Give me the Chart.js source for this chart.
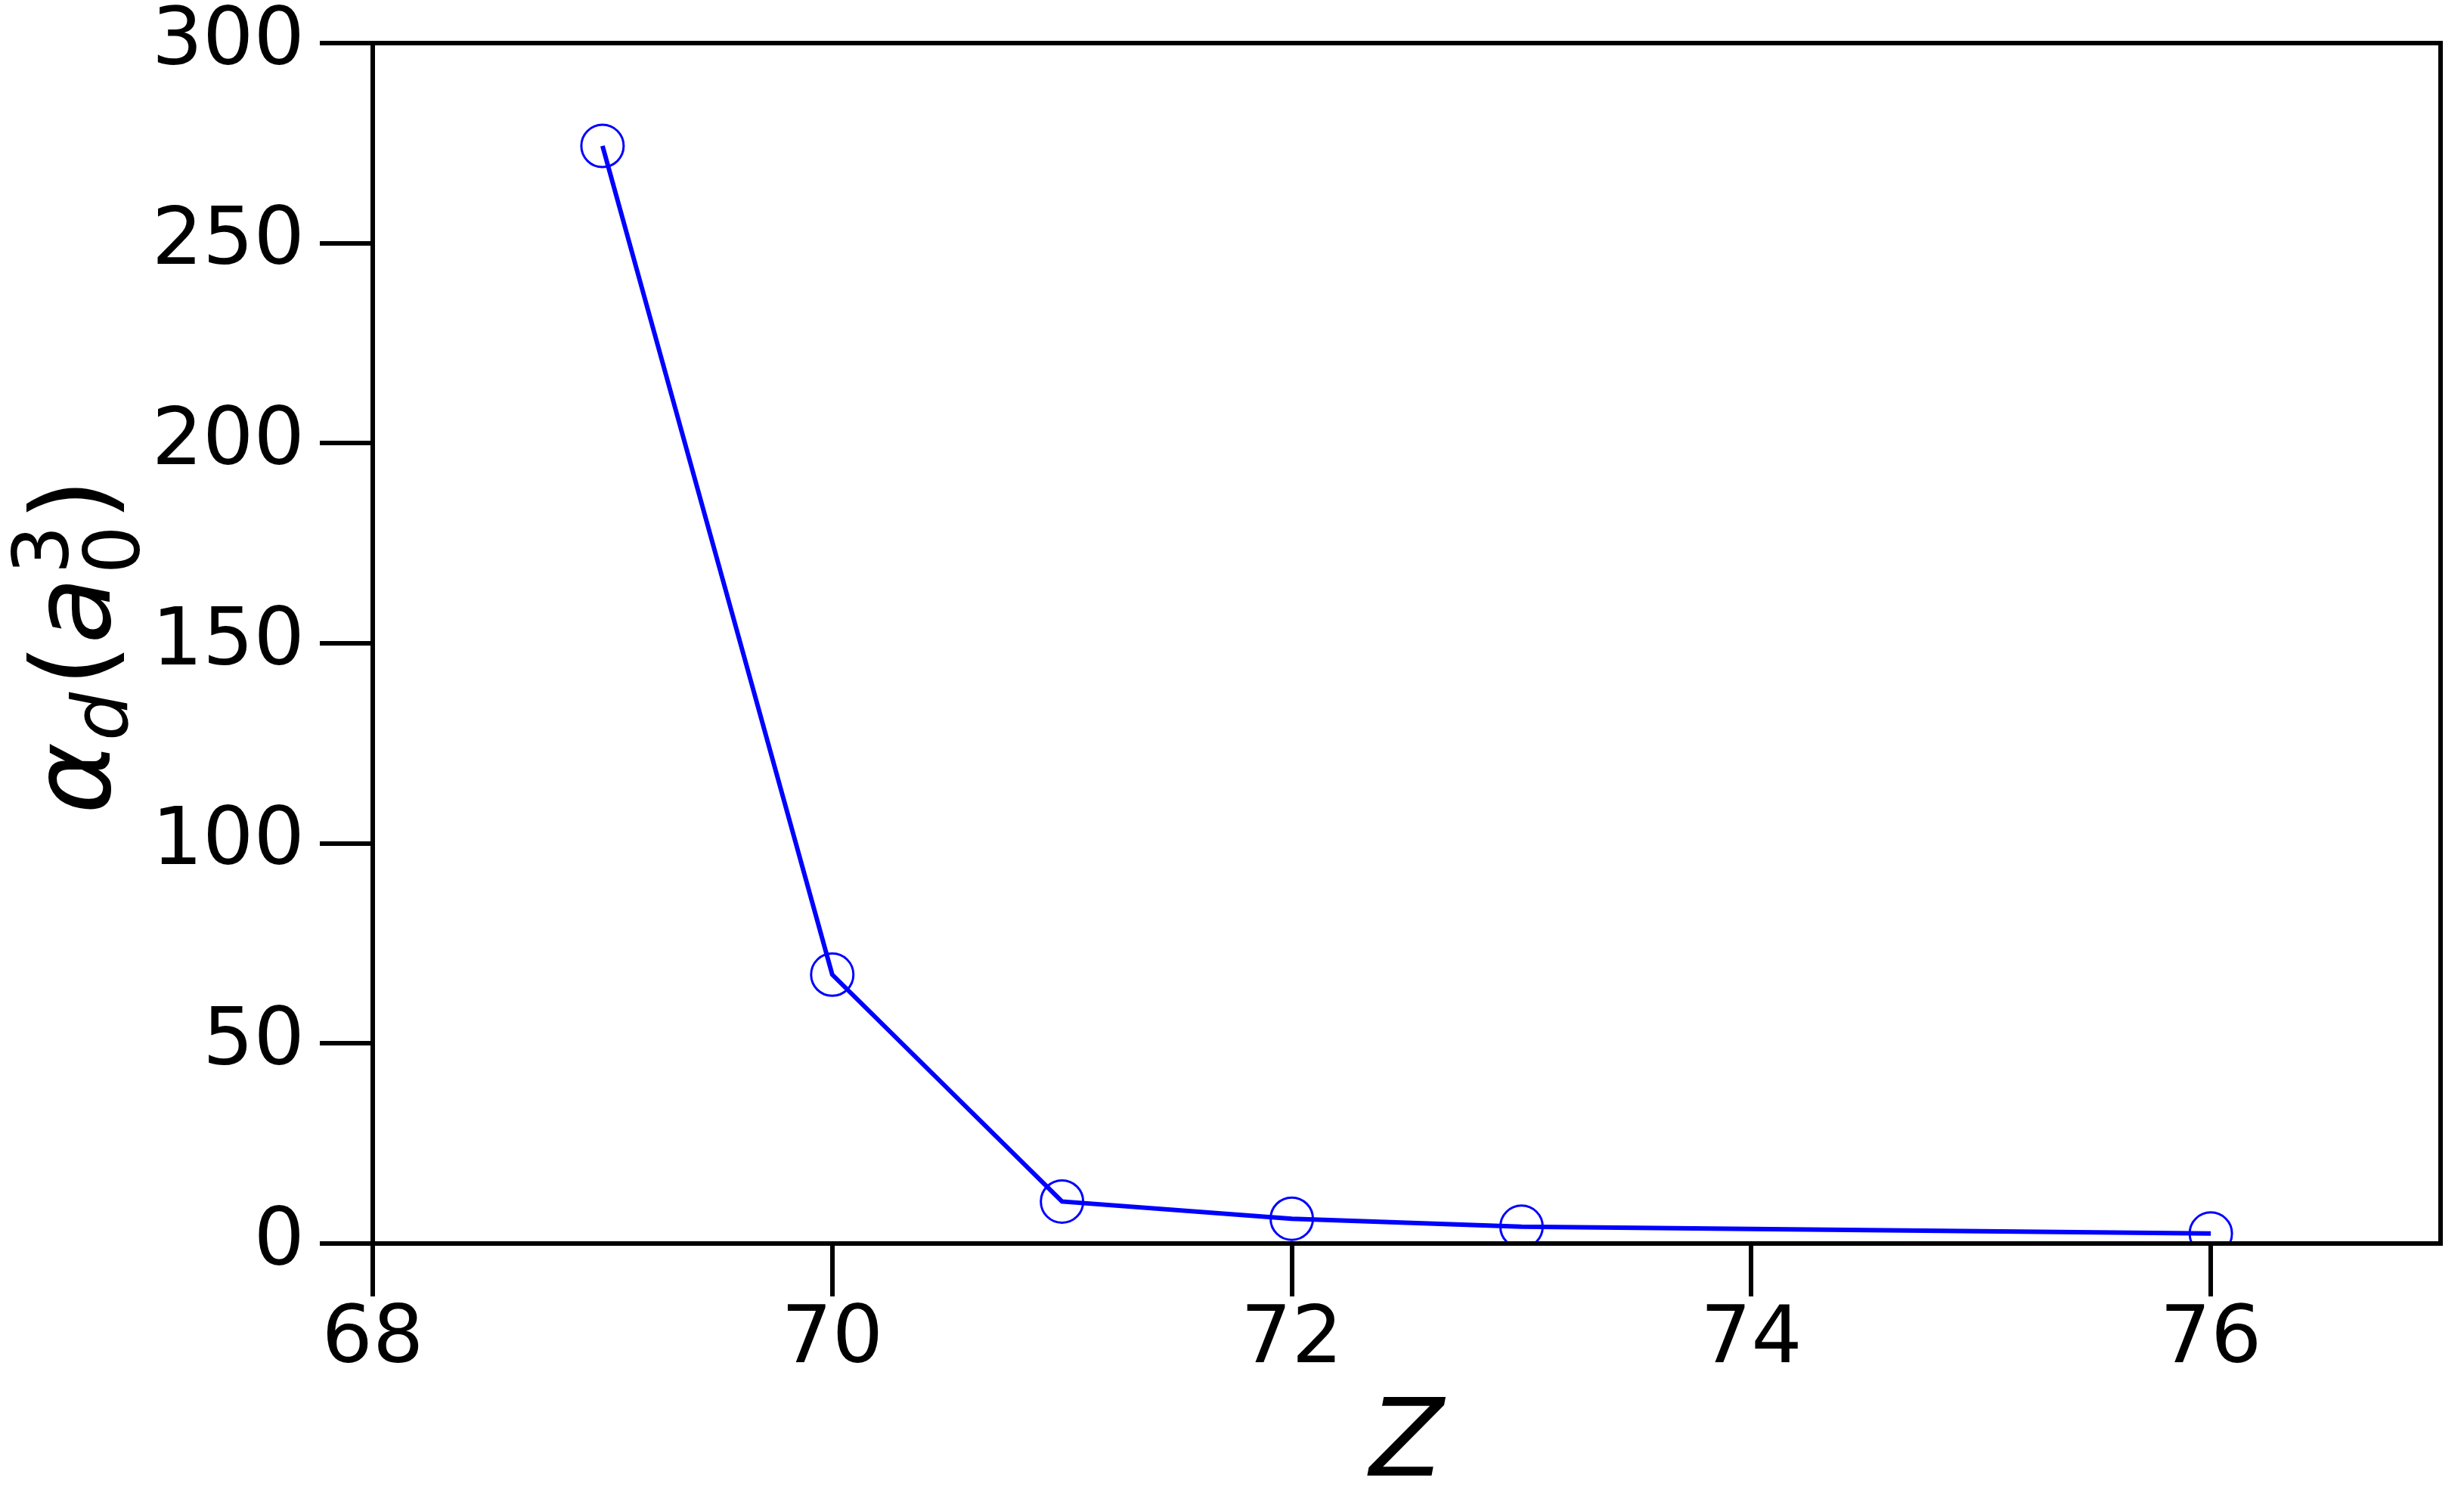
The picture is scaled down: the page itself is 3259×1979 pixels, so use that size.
<!DOCTYPE html>
<html>
<head>
<meta charset="utf-8">
<script src="https://cdn.jsdelivr.net/npm/chart.js@4.4.1/dist/chart.umd.min.js"></script>
<style>
    html, body { margin: 0; padding: 0; background: #ffffff; overflow: hidden; }
    #chart { display: block; }
</style>
</head>
<body>
<canvas id="chart" width="3259" height="1979"></canvas>
<script>
// Dipole polarizability vs atomic number Z

const zValues = [69, 70, 71, 72, 73, 76];
const alphaValues = [274.3, 67.2, 10.5, 6.2, 4.2, 2.5];

const xTicks = [68, 70, 72, 74, 76];
const yTicks = [0, 50, 100, 150, 200, 250, 300];

const BLUE = '#0000ff';
const FONT = "'DejaVu Sans'";

// Spines on top/right and the math-style axis titles
const framePlugin = {
    id: 'frame',
    afterDatasetsDraw(chart) {
        const { ctx, chartArea } = chart;
        ctx.save();
        ctx.strokeStyle = '#000';
        ctx.lineWidth = 6;
        ctx.strokeRect(chartArea.left, chartArea.top,
            chartArea.right - chartArea.left, chartArea.bottom - chartArea.top);
        ctx.restore();
    },
    afterDraw(chart) {
        const { ctx, chartArea } = chart;
        ctx.save();
        ctx.fillStyle = '#000';
        ctx.textBaseline = 'alphabetic';

        // x title: italic Z
        ctx.font = `italic 143px ${FONT}`;
        ctx.textAlign = 'center';
        ctx.fillText('Z', (chartArea.left + chartArea.right) / 2, 1952);

        // y title: alpha_d (a_0^3), rotated
        const big = 144, small = 101;
        const parts = [
            { t: '\u03b1', f: `italic ${big}px ${FONT}`, dv: 0 },
            { t: 'd', f: `italic ${small}px ${FONT}`, dv: 23, gap: 2 },
            { t: '(', f: `${big}px ${FONT}`, dv: 0, gap: 8 },
            { t: 'a', f: `italic ${big}px ${FONT}`, dv: 0 },
            { t: '0', f: `${small}px ${FONT}`, dv: 39, stack: '3', sdv: -55, gap: 4 },
            { t: ')', f: `${big}px ${FONT}`, dv: 0, gap: 6 }
        ];
        ctx.textAlign = 'left';
        let total = 0;
        parts.forEach(p => {
            ctx.font = p.f;
            p.w = ctx.measureText(p.t).width;
            total += p.w + (p.gap || 0);
        });
        const cy = (chartArea.top + chartArea.bottom) / 2 + 4;
        ctx.translate(145, cy);
        ctx.rotate(-Math.PI / 2);
        let u = -total / 2;
        parts.forEach(p => {
            u += p.gap || 0;
            ctx.font = p.f;
            ctx.fillText(p.t, u, p.dv);
            if (p.stack) ctx.fillText(p.stack, u, p.sdv);
            u += p.w;
        });
        ctx.restore();
    }
};

const axisCommon = {
    grid: {
        display: true,
        drawOnChartArea: false,
        drawTicks: true,
        tickLength: 70,
        tickWidth: 6,
        tickColor: '#000',
        lineWidth: 6,
        color: '#000'
    },
    border: { display: true, width: 6, color: '#000' }
};

new Chart(document.getElementById('chart'), {
    type: 'scatter',
    data: {
        datasets: [{
            data: zValues.map((z, i) => ({ x: z, y: alphaValues[i] })),
            showLine: true,
            borderColor: BLUE,
            borderWidth: 6,
            backgroundColor: 'rgba(0,0,0,0)',
            pointRadius: 28,
            pointHoverRadius: 28,
            pointBorderWidth: 3,
            pointBorderColor: BLUE,
            pointBackgroundColor: 'rgba(0,0,0,0)',
            tension: 0
        }]
    },
    options: {
        responsive: false,
        devicePixelRatio: 1,
        animation: false,
        events: [],
        layout: { padding: { left: 0, top: 57, right: 21, bottom: 0 } },
        plugins: {
            legend: { display: false },
            tooltip: { enabled: false }
        },
        scales: {
            x: {
                ...axisCommon,
                type: 'linear',
                min: 68,
                max: 77,
                afterBuildTicks: scale => { scale.ticks = xTicks.map(v => ({ value: v })); },
                afterFit: scale => {
                    scale.height = 1979 - 1645;
                    scale.paddingLeft = 0;
                    scale.paddingRight = 0;
                },
                ticks: {
                    color: '#000',
                    font: { family: 'DejaVu Sans', size: 106 },
                    padding: -4,
                    maxRotation: 0,
                    autoSkip: false
                }
            },
            y: {
                ...axisCommon,
                type: 'linear',
                min: 0,
                max: 300,
                afterBuildTicks: scale => { scale.ticks = yTicks.map(v => ({ value: v })); },
                afterFit: scale => {
                    scale.width = 493;
                    scale.paddingTop = 0;
                    scale.paddingBottom = 0;
                },
                ticks: {
                    color: '#000',
                    font: { family: 'DejaVu Sans', size: 106 },
                    padding: 20,
                    autoSkip: false
                }
            }
        }
    },
    plugins: [framePlugin]
});
</script>
</body>
</html>
